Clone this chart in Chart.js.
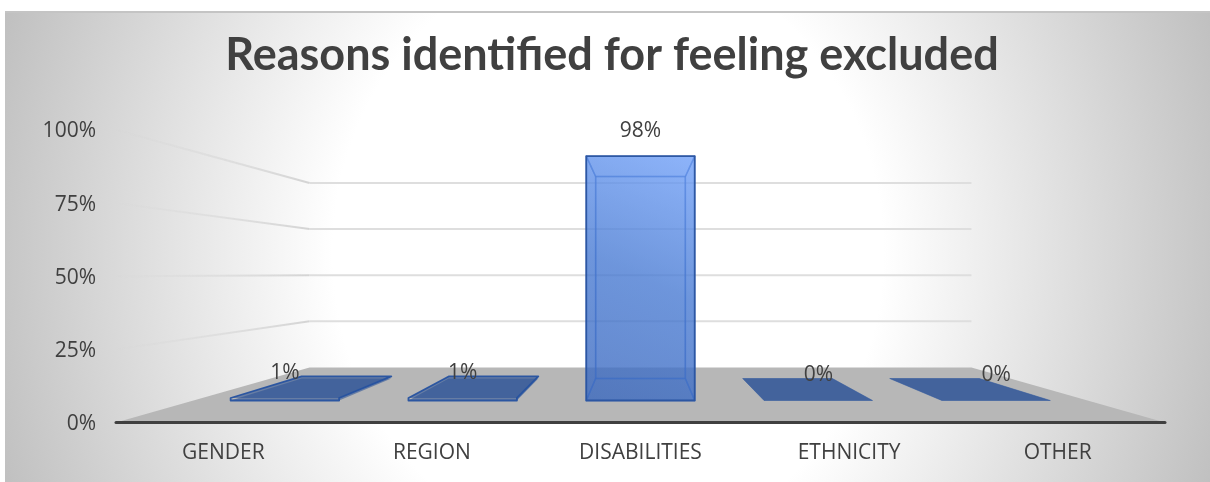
<!DOCTYPE html>
<html>
<head>
<meta charset="utf-8">
<style>
  html, body { margin: 0; padding: 0; background: #fff; overflow: hidden; }
  #bg {
    position: absolute; left: 5px; top: 11px; width: 1205px; height: 471px;
    box-sizing: border-box; border-top: 2px solid #c4c4c4;
    background: radial-gradient(640px 700px at 603px 239px, #fff 43%, #c0c0c0 100%);
  }
  #chart { position: absolute; left: 0; top: 0; }
</style>
</head>
<body>
<div id="bg"></div>
<canvas id="chart" width="1210" height="482"></canvas>
<script src="https://cdn.jsdelivr.net/npm/chart.js@4"></script>
<script>
const categories = ["GENDER", "REGION", "DISABILITIES", "ETHNICITY", "OTHER"];
const values = [1, 1, 98, 0, 0];
const titleText = "Reasons identified for feeling excluded";

const textColor = "#404040";
const fontName = "'Open Sans'";

// fake 3d: d=0 is the front of the floor (the real scale plane), d=1 the back wall
const perspective = 0.369;
const floorDepth = 55;
const barFrontD = 0.4;
const barBackD = 0.8;

function project(chart, px, py, d) {
  const zero = chart.scales.y.getPixelForValue(0);
  const cx = (chart.chartArea.left + chart.chartArea.right) / 2;
  const k = 1 - perspective * d;
  return [cx + (px - cx) * k, zero - floorDepth * d - (zero - py) * k];
}

function poly(ctx, pts, fill, stroke, lw) {
  ctx.beginPath();
  pts.forEach((p, i) => i ? ctx.lineTo(p[0], p[1]) : ctx.moveTo(p[0], p[1]));
  ctx.closePath();
  if (fill) { ctx.fillStyle = fill; ctx.fill(); }
  if (stroke) { ctx.strokeStyle = stroke; ctx.lineWidth = lw; ctx.stroke(); }
}

const wallsPlugin = {
  id: "walls",
  beforeDatasetsDraw(chart) {
    const ctx = chart.ctx, y = chart.scales.y, area = chart.chartArea;
    const zero = y.getPixelForValue(0);
    const left = area.left - 3, right = area.right + 3;
    ctx.save();

    const backL = project(chart, left, zero, 1);
    const backR = project(chart, right, zero, 1);
    poly(ctx, [[left, zero], backL, backR, [right, zero]], "#b7b7b7");

    y.ticks.forEach(t => {
      if (t.value === 0) return;
      const py = y.getPixelForValue(t.value);
      const a = project(chart, left, py, 1);
      const b = project(chart, right, py, 1);
      ctx.lineWidth = 2;
      ctx.strokeStyle = "#dedede";
      ctx.beginPath();
      ctx.moveTo(a[0], a[1]);
      ctx.lineTo(b[0], b[1]);
      ctx.stroke();
      // side wall, fades out toward the front
      const g = ctx.createLinearGradient(left, 0, a[0], 0);
      g.addColorStop(0, "rgba(212,212,212,0)");
      g.addColorStop(1, "rgba(212,212,212,1)");
      ctx.strokeStyle = g;
      ctx.beginPath();
      ctx.moveTo(left, py);
      ctx.lineTo(a[0], a[1]);
      ctx.stroke();
    });

    ctx.strokeStyle = textColor;
    ctx.lineWidth = 3;
    ctx.lineCap = "round";
    ctx.beginPath();
    ctx.moveTo(left, zero);
    ctx.lineTo(right, zero);
    ctx.stroke();
    ctx.restore();
  }
};

function barFill(ctx, val, x0, y0, x1, y1) {
  if (val < 5) return "rgba(39,79,149,0.55)";
  const g = ctx.createLinearGradient(x0, y1, x1, y0);
  g.addColorStop(0, "rgba(58,104,190,0.55)");
  g.addColorStop(0.5, "rgba(72,122,210,0.55)");
  g.addColorStop(1, "rgba(112,160,248,0.55)");
  return g;
}

const barsPlugin = {
  id: "bars3d",
  afterDatasetsDraw(chart) {
    const ctx = chart.ctx, zero = chart.scales.y.getPixelForValue(0);
    ctx.save();
    ctx.lineJoin = "round";
    chart.getDatasetMeta(0).data.forEach((bar, i) => {
      const val = values[i];
      const l = bar.x - bar.width / 2, r = bar.x + bar.width / 2;
      const fbl = project(chart, l, zero, barFrontD), fbr = project(chart, r, zero, barFrontD);
      const ftl = project(chart, l, bar.y, barFrontD), ftr = project(chart, r, bar.y, barFrontD);
      const bbl = project(chart, l, zero, barBackD), bbr = project(chart, r, zero, barBackD);
      const btl = project(chart, l, bar.y, barBackD), btr = project(chart, r, bar.y, barBackD);

      const fill = barFill(ctx, val, ftl[0], ftl[1], fbr[0], fbr[1]);
      const inner = val < 5 ? null : "rgba(60,110,200,0.55)";
      poly(ctx, [bbl, bbr, btr, btl], val >= 5 ? fill : null, inner, 1.5);  // back
      poly(ctx, [fbl, fbr, bbr, bbl], fill, inner, 1.5);         // floor
      if (val >= 5) {
        poly(ctx, [fbl, ftl, btl, bbl], fill, inner, 1.5);       // left
        poly(ctx, [fbr, ftr, btr, bbr], fill, inner, 1.5);       // right
      }
      poly(ctx, [ftl, ftr, btr, btl], fill, inner, 1.5);         // top
      if (val >= 5) poly(ctx, [fbl, fbr, ftr, ftl], fill, "rgba(42,84,160,0.95)", 1.8);
      else if (val > 0) poly(ctx, [fbl, fbr, ftr, btr, btl, ftl], null, "rgba(38,82,160,0.95)", 1.8);
      else poly(ctx, [fbl, fbr, bbr, bbl], null, "rgba(50,90,160,0.5)", 1);

      // data label sits a fixed distance above the front top of the bar
      ctx.fillStyle = textColor;
      ctx.font = "21px " + fontName;
      ctx.textAlign = "center";
      ctx.textBaseline = "middle";
      ctx.fillText(val + "%", ftl[0] + (ftr[0] - ftl[0]) / 2, ftl[1] - 25);
    });
    ctx.restore();
  }
};

new Chart(document.getElementById("chart"), {
  type: "bar",
  data: {
    labels: categories,
    datasets: [{
      data: values,
      backgroundColor: "transparent",
      barPercentage: 0.61,
      categoryPercentage: 1
    }]
  },
  options: {
    responsive: false,
    animation: false,
    layout: { padding: { left: 14, right: 0, top: 0, bottom: 0 } },
    plugins: {
      legend: { display: false },
      tooltip: { enabled: false },
      title: {
        display: true,
        text: titleText,
        color: textColor,
        font: { family: "Lato", size: 45, weight: "bold", lineHeight: 1.2 },
        padding: { top: 28, bottom: 48 }
      }
    },
    scales: {
      x: {
        grid: { display: false, drawTicks: false },
        border: { display: false },
        ticks: { color: textColor, font: { family: fontName, size: 21 }, padding: 18, maxRotation: 0, autoSkip: false },
        afterFit(s) { s.height = 59.5; }
      },
      y: {
        min: 0,
        max: 100,
        grid: { display: false, drawTicks: false },
        border: { display: false },
        ticks: {
          stepSize: 25,
          color: textColor,
          font: { family: fontName, size: 21 },
          padding: 23,
          labelOffset: 1.5,
          callback: v => v + "%"
        },
        afterFit(s) { s.width = 105; }
      },
      // empty axis, only keeps the plot short of the right edge
      yRight: {
        position: "right",
        grid: { display: false, drawTicks: false },
        border: { display: false },
        ticks: { display: false },
        afterFit(s) { s.width = 48; }
      }
    }
  },
  plugins: [wallsPlugin, barsPlugin]
});
</script>
</body>
</html>
